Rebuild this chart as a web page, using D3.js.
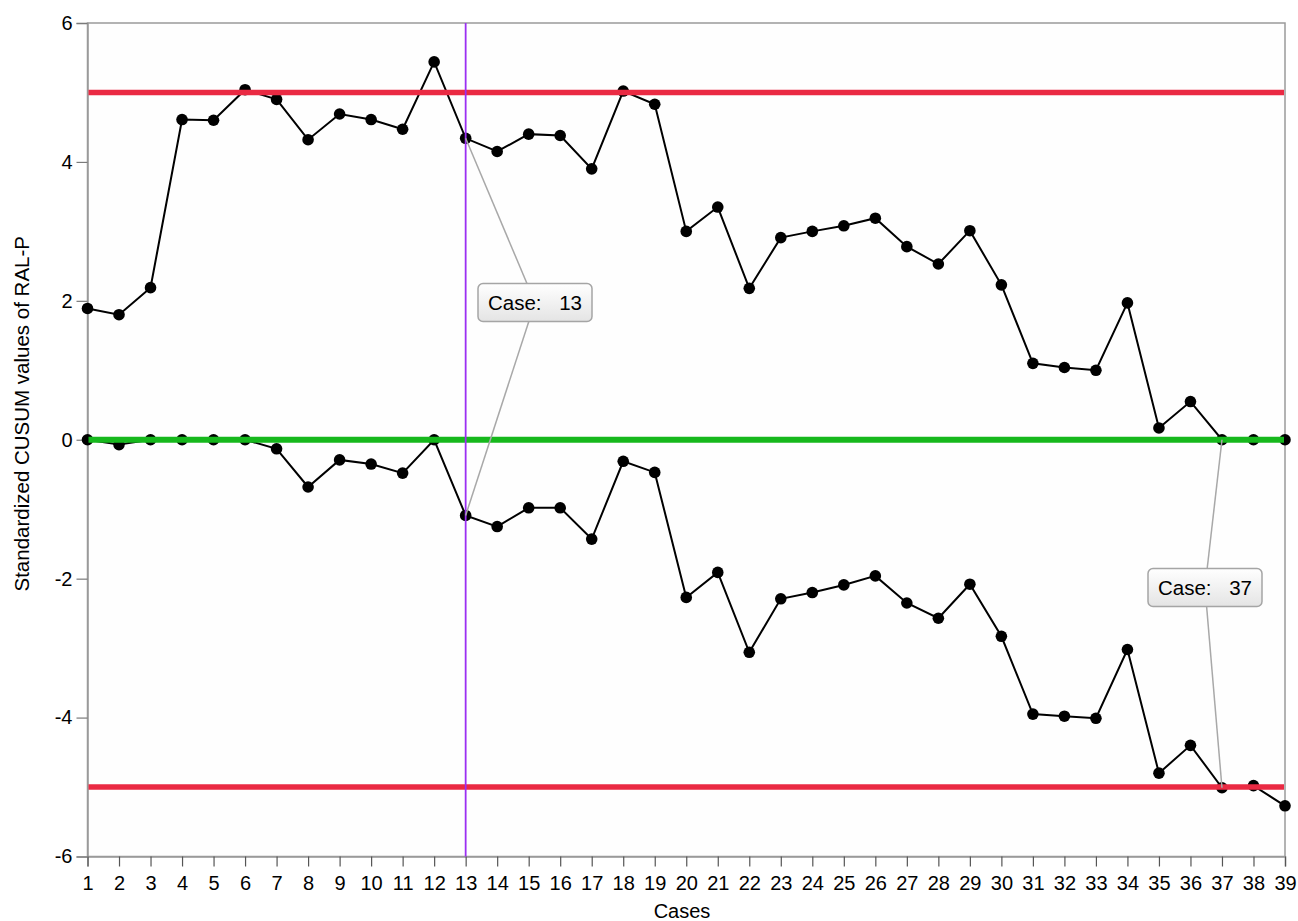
<!DOCTYPE html>
<html>
<head>
<meta charset="utf-8">
<script src="https://cdn.jsdelivr.net/npm/d3@7"></script>
<style>
  html, body { margin: 0; padding: 0; background: #ffffff; }
  svg { display: block; }
  text { font-family: "Liberation Sans", Arial, Helvetica, sans-serif; fill: #000; }
</style>
</head>
<body>
<svg id="chart" width="1298" height="921"></svg>
<script>
// Case numbers along the x axis
const cases = d3.range(1, 40);

// Upper (positive) standardized CUSUM of RAL-P
const upperCusum = [
  1.89, 1.80, 2.19, 4.61, 4.60, 5.04, 4.90, 4.32, 4.69, 4.61,
  4.47, 5.44, 4.34, 4.15, 4.40, 4.38, 3.90, 5.02, 4.83, 3.00,
  3.35, 2.18, 2.91, 3.00, 3.08, 3.19, 2.78, 2.53, 3.01, 2.23,
  1.10, 1.04, 1.00, 1.97, 0.17, 0.55, 0.00, 0.00, 0.00
];

// Lower (negative) standardized CUSUM of RAL-P
const lowerCusum = [
  0.00, -0.07, 0.00, 0.00, 0.00, 0.00, -0.13, -0.68, -0.29, -0.35,
  -0.48, 0.00, -1.09, -1.25, -0.98, -0.98, -1.43, -0.31, -0.47, -2.27,
  -1.91, -3.06, -2.29, -2.20, -2.09, -1.96, -2.35, -2.57, -2.08, -2.83,
  -3.95, -3.98, -4.01, -3.02, -4.80, -4.40, -5.01, -4.98, -5.27
];

// Decision limits and centre line
const controlLimits = [5, -5];
const centreLine = [0];

// Axis ticks
const yTicks = [-6, -4, -2, 0, 2, 4, 6];

// Selected case (vertical marker) and the cases carrying a callout
const markedCases = [13];
const calloutCases = [13, 37];
const calloutCenters = [[535, 302.5], [1205, 587.5]];

const svg = d3.select("#chart");
const plotLeft = 87.5, plotRight = 1285, plotTop = 23, plotBottom = 856.5;

const x = d3.scaleLinear().domain([1, 39]).range([plotLeft, plotRight]);
const y = d3.scaleLinear().domain([-6, 6]).range([plotBottom, plotTop]);

// Plot frame
svg.append("rect")
  .attr("x", plotLeft).attr("y", plotTop)
  .attr("width", plotRight - plotLeft).attr("height", plotBottom - plotTop)
  .attr("fill", "#fefefe").attr("stroke", "#9a9a9a").attr("stroke-width", 1.5);

// Y axis
const yAxis = svg.append("g")
  .attr("transform", `translate(${plotLeft},0)`)
  .call(d3.axisLeft(y).tickValues(yTicks).tickSize(11).tickPadding(4).tickFormat(d3.format("d")));
yAxis.select(".domain").attr("stroke", "#9a9a9a").attr("stroke-width", 1.5);
yAxis.selectAll(".tick line").attr("stroke", "#7a7a7a").attr("stroke-width", 1.2);
yAxis.selectAll(".tick text").style("font-size", "20px").attr("fill", "#000")
  .text(d => d < 0 ? "-" + Math.abs(d) : d);

// X axis
const xAxis = svg.append("g")
  .attr("transform", `translate(0,${plotBottom})`)
  .call(d3.axisBottom(x).tickValues(cases).tickSize(10).tickPadding(9).tickFormat(d3.format("d")));
xAxis.select(".domain").attr("stroke", "#9a9a9a").attr("stroke-width", 1.5);
xAxis.selectAll(".tick line").attr("stroke", "#555").attr("stroke-width", 1.2);
xAxis.selectAll(".tick text").style("font-size", "20px").attr("fill", "#000");

// Axis titles
svg.append("text")
  .attr("x", 682).attr("y", 918)
  .attr("text-anchor", "middle").style("font-size", "20px")
  .text("Cases");
svg.append("text")
  .attr("transform", `translate(29,${(plotTop + plotBottom) / 2 - 26}) rotate(-90)`)
  .attr("text-anchor", "middle").style("font-size", "20.5px")
  .text("Standardized CUSUM values of RAL-P");

// CUSUM series
const line = d3.line().x((d, i) => x(cases[i])).y(d => y(d));
[upperCusum, lowerCusum].forEach(series => {
  svg.append("path").datum(series)
    .attr("d", line).attr("fill", "none")
    .attr("stroke", "#000").attr("stroke-width", 2);
  svg.append("g").selectAll("circle").data(series).join("circle")
    .attr("cx", (d, i) => x(cases[i])).attr("cy", d => y(d))
    .attr("r", 5.8).attr("fill", "#000");
});

// Decision limits
svg.append("g").selectAll("line").data(controlLimits).join("line")
  .attr("x1", plotLeft + 1).attr("x2", plotRight - 1)
  .attr("y1", d => y(d)).attr("y2", d => y(d))
  .attr("stroke", "#ea2a43").attr("stroke-width", 5.5);

// Centre line
svg.append("g").selectAll("line").data(centreLine).join("line")
  .attr("x1", plotLeft + 1).attr("x2", plotRight - 1)
  .attr("y1", d => y(d)).attr("y2", d => y(d))
  .attr("stroke", "#16b81c").attr("stroke-width", 6);

// Selected case marker
svg.append("g").selectAll("line").data(markedCases).join("line")
  .attr("x1", d => x(d)).attr("x2", d => x(d))
  .attr("y1", plotTop).attr("y2", plotBottom)
  .attr("stroke", "#9b2ff2").attr("stroke-width", 1.8);

// Callouts linking the upper and lower points of a case
const defs = svg.append("defs");
const grad = defs.append("linearGradient").attr("id", "tipFill")
  .attr("x1", 0).attr("y1", 0).attr("x2", 0).attr("y2", 1);
grad.append("stop").attr("offset", "0%").attr("stop-color", "#ffffff");
grad.append("stop").attr("offset", "100%").attr("stop-color", "#e4e4e4");

calloutCases.forEach((c, k) => {
  const [cx, cy] = calloutCenters[k];
  const i = c - 1;
  const g = svg.append("g");
  [upperCusum[i], lowerCusum[i]].forEach(v => {
    g.append("line")
      .attr("x1", x(c)).attr("y1", y(v))
      .attr("x2", cx).attr("y2", cy)
      .attr("stroke", "#a8a8a8").attr("stroke-width", 1.5);
  });
  const w = 114, h = 38;
  g.append("rect")
    .attr("x", cx - w / 2).attr("y", cy - h / 2)
    .attr("width", w).attr("height", h).attr("rx", 5)
    .attr("fill", "url(#tipFill)").attr("stroke", "#a5a5a5").attr("stroke-width", 1.5);
  g.append("text")
    .attr("x", cx - w / 2 + 10).attr("y", cy + 7.5)
    .style("font-size", "20.5px")
    .text("Case:");
  g.append("text")
    .attr("x", cx + w / 2 - 10).attr("y", cy + 7.5)
    .attr("text-anchor", "end")
    .style("font-size", "20.5px")
    .text(c);
});
</script>
</body>
</html>
